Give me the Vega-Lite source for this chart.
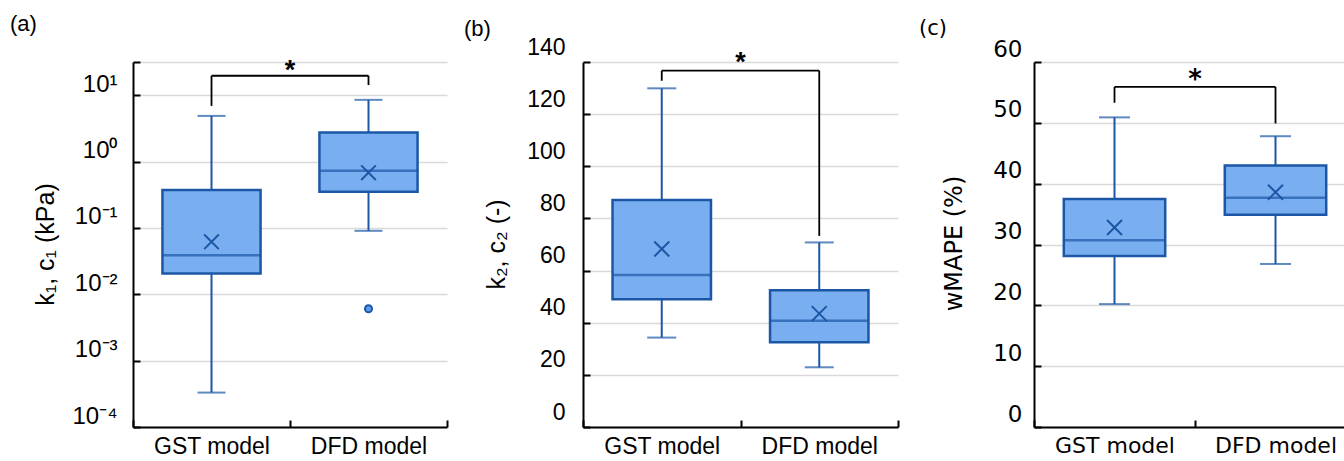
{
  "$schema": "https://vega.github.io/schema/vega-lite/v6.json",
  "background": "white",
  "padding": {"left": 10, "top": 12, "right": 0, "bottom": 0},
  "config": {"view": {"stroke": null}},
  "datasets": {
    "boxes": [
      {"panel": "a", "model": "GST model", "min": 0.00033, "q1": 0.0205, "median": 0.0387, "q3": 0.372, "max": 4.87, "mean": 0.0617},
      {"panel": "a", "model": "DFD model", "min": 0.0904, "q1": 0.351, "median": 0.728, "q3": 2.73, "max": 8.5, "mean": 0.679},
      {"panel": "b", "model": "GST model", "min": 34.3, "q1": 49.0, "median": 58.3, "q3": 87.1, "max": 129.9, "mean": 68.3},
      {"panel": "b", "model": "DFD model", "min": 22.9, "q1": 32.5, "median": 40.8, "q3": 52.5, "max": 70.8, "mean": 43.5},
      {"panel": "c", "model": "GST model", "min": 20.2, "q1": 28.1, "median": 30.7, "q3": 37.5, "max": 50.9, "mean": 32.8},
      {"panel": "c", "model": "DFD model", "min": 26.8, "q1": 34.9, "median": 37.7, "q3": 43.0, "max": 47.8, "mean": 38.6}
    ],
    "outliers": [
      {"panel": "a", "model": "DFD model", "value": 0.00605}
    ],
    "legs": [
      {"panel": "a", "model": "GST model", "top": 19.6, "end": 6.89},
      {"panel": "a", "model": "DFD model", "top": 19.6, "end": 14.2},
      {"panel": "b", "model": "GST model", "top": 136.7, "end": 132.8},
      {"panel": "b", "model": "DFD model", "top": 136.7, "end": 73.3},
      {"panel": "c", "model": "GST model", "top": 55.9, "end": 53.3},
      {"panel": "c", "model": "DFD model", "top": 55.9, "end": 49.9}
    ],
    "bars": [
      {"panel": "a", "from": "GST model", "to": "DFD model", "y": 19.6, "star": 23.5, "label": "*"},
      {"panel": "b", "from": "GST model", "to": "DFD model", "y": 136.7, "star": 139.7, "label": "*"},
      {"panel": "c", "from": "GST model", "to": "DFD model", "y": 55.9, "star": 57.0, "label": "*"}
    ]
  },
  "hconcat": [
    {
      "width": 314, "height": 365,
      "title": {"text": "(a)", "anchor": "start", "frame": "group", "dx": -123, "dy": -17, "font": "Liberation Sans", "fontSize": 22, "fontWeight": "normal", "color": "#000"},
      "layer": [
        {
          "data": {"name": "boxes"}, "transform": [{"filter": "datum.panel === 'a'"}],
          "mark": {"type": "rule", "color": "#1c57a6", "strokeWidth": 2},
          "encoding": {
            "x": {"field": "model", "type": "nominal", "scale": {"domain": ["GST model", "DFD model"], "paddingInner": 0, "paddingOuter": 0},
              "axis": {"title": null, "labelAngle": 0, "labelFont": "Liberation Sans", "labelFontSize": 23, "labelColor": "#000", "labelPadding": 15, "domainColor": "#000", "domainWidth": 2, "tickBand": "extent", "tickSize": -7, "tickColor": "#000", "tickWidth": 2, "grid": false}},
            "y": {"field": "min", "type": "quantitative", "scale": {"type": "log", "domain": [0.0001, 31.6], "nice": false},
              "axis": {"title": "k₁, c₁ (kPa)", "titleFont": "Liberation Sans", "titleFontSize": 25, "titleFontWeight": "normal", "titleColor": "#000", "titleX": -88, "titleY": 182, "titleAngle": -90, "titleAlign": "center", "titleBaseline": "middle",
                "values": [0.0001, 0.001, 0.01, 0.1, 1, 10, 31.6],
                "labelExpr": "datum.value > 20 ? '' : datum.value >= 9 ? '10¹' : datum.value >= 0.9 ? '10⁰' : datum.value >= 0.09 ? '10⁻¹' : datum.value >= 0.009 ? '10⁻²' : datum.value >= 0.0009 ? '10⁻³' : '10⁻⁴'",
                "labelFont": "Liberation Sans", "labelFontSize": 24, "labelColor": "#000", "labelOffset": -11, "labelPadding": 23,
                "domainColor": "#000", "domainWidth": 2, "tickColor": "#000", "tickWidth": 2, "tickSize": -7,
                "grid": true, "gridColor": "#d9d9d9", "gridWidth": 1.5}},
            "y2": {"field": "max"}
          }
        },
        {
          "data": {"name": "boxes"}, "transform": [{"filter": "datum.panel === 'a'"}],
          "mark": {"type": "bar", "fill": "#79aef0", "stroke": "#1c57a6", "strokeWidth": 2.5, "width": {"band": 0.625}},
          "encoding": {"x": {"field": "model", "type": "nominal"}, "y": {"field": "q1", "type": "quantitative"}, "y2": {"field": "q3"}}
        },
        {
          "data": {"name": "boxes"}, "transform": [{"filter": "datum.panel === 'a'"}],
          "mark": {"type": "tick", "color": "#1c57a6", "size": 98, "thickness": 2.5},
          "encoding": {"x": {"field": "model", "type": "nominal"}, "y": {"field": "median", "type": "quantitative"}}
        },
        {
          "data": {"name": "boxes"}, "transform": [{"filter": "datum.panel === 'a'"}],
          "mark": {"type": "tick", "color": "#1c57a6", "size": 28, "thickness": 2},
          "encoding": {"x": {"field": "model", "type": "nominal"}, "y": {"field": "min", "type": "quantitative"}}
        },
        {
          "data": {"name": "boxes"}, "transform": [{"filter": "datum.panel === 'a'"}],
          "mark": {"type": "tick", "color": "#1c57a6", "size": 28, "thickness": 2},
          "encoding": {"x": {"field": "model", "type": "nominal"}, "y": {"field": "max", "type": "quantitative"}}
        },
        {
          "data": {"name": "boxes"}, "transform": [{"filter": "datum.panel === 'a'"}],
          "mark": {"type": "point", "shape": "M-1,-1L1,1M-1,1L1,-1", "filled": false, "stroke": "#1c57a6", "strokeWidth": 2, "size": 215, "opacity": 1},
          "encoding": {"x": {"field": "model", "type": "nominal"}, "y": {"field": "mean", "type": "quantitative"}}
        },
        {
          "data": {"name": "outliers"}, "transform": [{"filter": "datum.panel === 'a'"}],
          "mark": {"type": "point", "shape": "circle", "filled": true, "fill": "#5d9cec", "stroke": "#1c57a6", "strokeWidth": 2, "size": 50, "opacity": 1},
          "encoding": {"x": {"field": "model", "type": "nominal"}, "y": {"field": "value", "type": "quantitative"}}
        },
        {
          "data": {"name": "legs"}, "transform": [{"filter": "datum.panel === 'a'"}],
          "mark": {"type": "rule", "color": "#000", "strokeWidth": 1.8},
          "encoding": {"x": {"field": "model", "type": "nominal"}, "y": {"field": "top", "type": "quantitative"}, "y2": {"field": "end"}}
        },
        {
          "data": {"name": "bars"}, "transform": [{"filter": "datum.panel === 'a'"}],
          "mark": {"type": "rule", "color": "#000", "strokeWidth": 1.8},
          "encoding": {"x": {"field": "from", "type": "nominal"}, "x2": {"field": "to"}, "y": {"field": "y", "type": "quantitative"}}
        },
        {
          "data": {"name": "bars"}, "transform": [{"filter": "datum.panel === 'a'"}],
          "mark": {"type": "text", "font": "Liberation Sans", "fontSize": 27, "fontWeight": "bold", "color": "#000", "baseline": "middle", "align": "center"},
          "encoding": {"x": {"field": "to", "type": "nominal", "bandPosition": 0}, "y": {"field": "star", "type": "quantitative"}, "text": {"field": "label"}}
        }
      ]
    },
    {
      "width": 315, "height": 365,
      "title": {"text": "(b)", "anchor": "start", "frame": "group", "dx": -119, "dy": 9, "font": "Liberation Sans", "fontSize": 22, "fontWeight": "normal", "color": "#000"},
      "layer": [
        {
          "data": {"name": "boxes"}, "transform": [{"filter": "datum.panel === 'b'"}],
          "mark": {"type": "rule", "color": "#1c57a6", "strokeWidth": 2},
          "encoding": {
            "x": {"field": "model", "type": "nominal", "scale": {"domain": ["GST model", "DFD model"], "paddingInner": 0, "paddingOuter": 0},
              "axis": {"title": null, "labelAngle": 0, "labelFont": "Liberation Sans", "labelFontSize": 23, "labelColor": "#000", "labelPadding": 15, "domainColor": "#000", "domainWidth": 2, "tickBand": "extent", "tickSize": -7, "tickColor": "#000", "tickWidth": 2, "grid": false}},
            "y": {"field": "min", "type": "quantitative", "scale": {"domain": [0, 140], "nice": false},
              "axis": {"title": "k₂, c₂ (-)", "titleFont": "Liberation Sans", "titleFontSize": 25, "titleFontWeight": "normal", "titleColor": "#000", "titleX": -87, "titleY": 182, "titleAngle": -90, "titleAlign": "center", "titleBaseline": "middle",
                "values": [0, 20, 40, 60, 80, 100, 120, 140],
                "labelFont": "Liberation Sans", "labelFontSize": 23, "labelColor": "#000", "labelOffset": -15, "labelPadding": 25,
                "domainColor": "#000", "domainWidth": 2, "tickColor": "#000", "tickWidth": 2, "tickSize": -7,
                "grid": true, "gridColor": "#d9d9d9", "gridWidth": 1.5}},
            "y2": {"field": "max"}
          }
        },
        {
          "data": {"name": "boxes"}, "transform": [{"filter": "datum.panel === 'b'"}],
          "mark": {"type": "bar", "fill": "#79aef0", "stroke": "#1c57a6", "strokeWidth": 2.5, "width": {"band": 0.625}},
          "encoding": {"x": {"field": "model", "type": "nominal"}, "y": {"field": "q1", "type": "quantitative"}, "y2": {"field": "q3"}}
        },
        {
          "data": {"name": "boxes"}, "transform": [{"filter": "datum.panel === 'b'"}],
          "mark": {"type": "tick", "color": "#1c57a6", "size": 98, "thickness": 2.5},
          "encoding": {"x": {"field": "model", "type": "nominal"}, "y": {"field": "median", "type": "quantitative"}}
        },
        {
          "data": {"name": "boxes"}, "transform": [{"filter": "datum.panel === 'b'"}],
          "mark": {"type": "tick", "color": "#1c57a6", "size": 29, "thickness": 2},
          "encoding": {"x": {"field": "model", "type": "nominal"}, "y": {"field": "min", "type": "quantitative"}}
        },
        {
          "data": {"name": "boxes"}, "transform": [{"filter": "datum.panel === 'b'"}],
          "mark": {"type": "tick", "color": "#1c57a6", "size": 29, "thickness": 2},
          "encoding": {"x": {"field": "model", "type": "nominal"}, "y": {"field": "max", "type": "quantitative"}}
        },
        {
          "data": {"name": "boxes"}, "transform": [{"filter": "datum.panel === 'b'"}],
          "mark": {"type": "point", "shape": "M-1,-1L1,1M-1,1L1,-1", "filled": false, "stroke": "#1c57a6", "strokeWidth": 2, "size": 225, "opacity": 1},
          "encoding": {"x": {"field": "model", "type": "nominal"}, "y": {"field": "mean", "type": "quantitative"}}
        },
        {
          "data": {"name": "legs"}, "transform": [{"filter": "datum.panel === 'b'"}],
          "mark": {"type": "rule", "color": "#000", "strokeWidth": 1.8},
          "encoding": {"x": {"field": "model", "type": "nominal"}, "y": {"field": "top", "type": "quantitative"}, "y2": {"field": "end"}}
        },
        {
          "data": {"name": "bars"}, "transform": [{"filter": "datum.panel === 'b'"}],
          "mark": {"type": "rule", "color": "#000", "strokeWidth": 1.8},
          "encoding": {"x": {"field": "from", "type": "nominal"}, "x2": {"field": "to"}, "y": {"field": "y", "type": "quantitative"}}
        },
        {
          "data": {"name": "bars"}, "transform": [{"filter": "datum.panel === 'b'"}],
          "mark": {"type": "text", "font": "Liberation Sans", "fontSize": 27, "fontWeight": "bold", "color": "#000", "baseline": "middle", "align": "center"},
          "encoding": {"x": {"field": "to", "type": "nominal", "bandPosition": 0}, "y": {"field": "star", "type": "quantitative"}, "text": {"field": "label"}}
        }
      ]
    },
    {
      "width": 322, "height": 365,
      "title": {"text": "(c)", "anchor": "start", "frame": "group", "dx": -115, "dy": 5, "font": "DejaVu Sans", "fontSize": 21, "fontWeight": "normal", "color": "#000"},
      "layer": [
        {
          "data": {"name": "boxes"}, "transform": [{"filter": "datum.panel === 'c'"}],
          "mark": {"type": "rule", "color": "#1c57a6", "strokeWidth": 2},
          "encoding": {
            "x": {"field": "model", "type": "nominal", "scale": {"domain": ["GST model", "DFD model"], "paddingInner": 0, "paddingOuter": 0},
              "axis": {"title": null, "labelAngle": 0, "labelFont": "DejaVu Sans", "labelFontSize": 22, "labelColor": "#000", "labelPadding": 15, "domainColor": "#000", "domainWidth": 2, "tickBand": "extent", "tickSize": -7, "tickColor": "#000", "tickWidth": 2, "grid": false}},
            "y": {"field": "min", "type": "quantitative", "scale": {"domain": [0, 60], "nice": false},
              "axis": {"title": "wMAPE (%)", "titleFont": "DejaVu Sans", "titleFontSize": 24, "titleFontWeight": "normal", "titleColor": "#000", "titleX": -80, "titleY": 181, "titleAngle": -90, "titleAlign": "center", "titleBaseline": "middle",
                "values": [0, 10, 20, 30, 40, 50, 60],
                "labelFont": "DejaVu Sans", "labelFontSize": 23, "labelColor": "#000", "labelOffset": -13, "labelPadding": 19,
                "domainColor": "#000", "domainWidth": 2, "tickColor": "#000", "tickWidth": 2, "tickSize": -7,
                "grid": true, "gridColor": "#d9d9d9", "gridWidth": 1.5}},
            "y2": {"field": "max"}
          }
        },
        {
          "data": {"name": "boxes"}, "transform": [{"filter": "datum.panel === 'c'"}],
          "mark": {"type": "bar", "fill": "#79aef0", "stroke": "#1c57a6", "strokeWidth": 2.5, "width": {"band": 0.63}},
          "encoding": {"x": {"field": "model", "type": "nominal"}, "y": {"field": "q1", "type": "quantitative"}, "y2": {"field": "q3"}}
        },
        {
          "data": {"name": "boxes"}, "transform": [{"filter": "datum.panel === 'c'"}],
          "mark": {"type": "tick", "color": "#1c57a6", "size": 101, "thickness": 2.5},
          "encoding": {"x": {"field": "model", "type": "nominal"}, "y": {"field": "median", "type": "quantitative"}}
        },
        {
          "data": {"name": "boxes"}, "transform": [{"filter": "datum.panel === 'c'"}],
          "mark": {"type": "tick", "color": "#1c57a6", "size": 31, "thickness": 2},
          "encoding": {"x": {"field": "model", "type": "nominal"}, "y": {"field": "min", "type": "quantitative"}}
        },
        {
          "data": {"name": "boxes"}, "transform": [{"filter": "datum.panel === 'c'"}],
          "mark": {"type": "tick", "color": "#1c57a6", "size": 31, "thickness": 2},
          "encoding": {"x": {"field": "model", "type": "nominal"}, "y": {"field": "max", "type": "quantitative"}}
        },
        {
          "data": {"name": "boxes"}, "transform": [{"filter": "datum.panel === 'c'"}],
          "mark": {"type": "point", "shape": "M-1,-1L1,1M-1,1L1,-1", "filled": false, "stroke": "#1c57a6", "strokeWidth": 2, "size": 225, "opacity": 1},
          "encoding": {"x": {"field": "model", "type": "nominal"}, "y": {"field": "mean", "type": "quantitative"}}
        },
        {
          "data": {"name": "legs"}, "transform": [{"filter": "datum.panel === 'c'"}],
          "mark": {"type": "rule", "color": "#000", "strokeWidth": 1.8},
          "encoding": {"x": {"field": "model", "type": "nominal"}, "y": {"field": "top", "type": "quantitative"}, "y2": {"field": "end"}}
        },
        {
          "data": {"name": "bars"}, "transform": [{"filter": "datum.panel === 'c'"}],
          "mark": {"type": "rule", "color": "#000", "strokeWidth": 1.8},
          "encoding": {"x": {"field": "from", "type": "nominal"}, "x2": {"field": "to"}, "y": {"field": "y", "type": "quantitative"}}
        },
        {
          "data": {"name": "bars"}, "transform": [{"filter": "datum.panel === 'c'"}],
          "mark": {"type": "text", "font": "DejaVu Sans", "fontSize": 26, "fontWeight": "bold", "color": "#000", "baseline": "middle", "align": "center"},
          "encoding": {"x": {"field": "to", "type": "nominal", "bandPosition": 0}, "y": {"field": "star", "type": "quantitative"}, "text": {"field": "label"}}
        }
      ]
    }
  ],
  "spacing": 136,
  "bounds": "flush"
}
